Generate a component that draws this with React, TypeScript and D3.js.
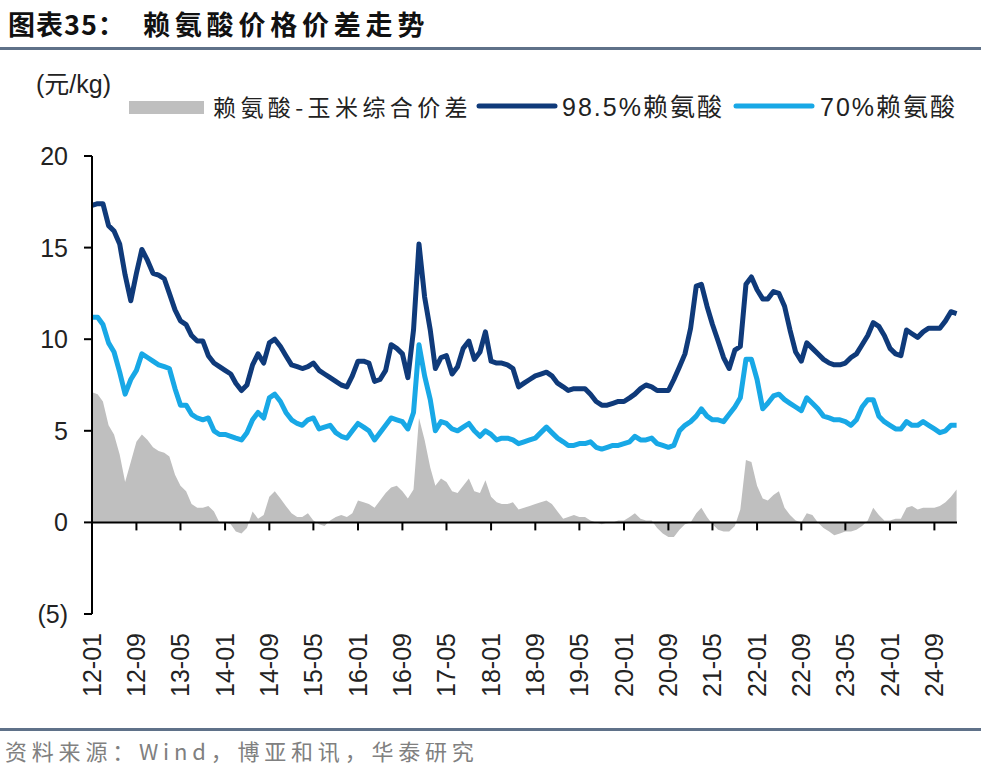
import * as d3 from 'd3';

// monthly, 2012-01 .. 2025-01
const lysine985: number[] = [
    17.3, 17.4, 17.4, 16.2, 15.9, 15.2, 13.5, 12.1, 13.6, 14.9, 14.3, 13.6,
    13.5, 13.3, 12.5, 11.6, 11.0, 10.8, 10.2, 9.9, 9.9, 9.1, 8.7, 8.5,
    8.3, 8.1, 7.6, 7.2, 7.5, 8.6, 9.2, 8.7, 9.8, 10.0, 9.6, 9.1,
    8.6, 8.5, 8.4, 8.5, 8.7, 8.3, 8.1, 7.9, 7.7, 7.5, 7.4, 8.0,
    8.8, 8.8, 8.7, 7.7, 7.8, 8.3, 9.7, 9.5, 9.2, 7.9, 10.5, 15.2,
    12.3, 10.5, 8.4, 9.0, 9.1, 8.1, 8.5, 9.5, 9.9, 8.9, 9.3, 10.4,
    8.8, 8.7, 8.7, 8.6, 8.4, 7.4, 7.6, 7.8, 8.0, 8.1, 8.2, 8.0,
    7.6, 7.4, 7.2, 7.3, 7.3, 7.3, 7.0, 6.6, 6.4, 6.4, 6.5, 6.6,
    6.6, 6.8, 7.0, 7.3, 7.5, 7.4, 7.2, 7.2, 7.2, 7.8, 8.5, 9.2,
    10.6, 12.9, 13.0, 11.8, 10.8, 9.9, 9.0, 8.4, 9.4, 9.6, 13.0, 13.4,
    12.7, 12.2, 12.2, 12.6, 12.5, 11.8, 10.5, 9.3, 8.8, 9.8, 9.5, 9.2,
    8.9, 8.7, 8.6, 8.6, 8.7, 9.0, 9.2, 9.7, 10.2, 10.9, 10.7, 10.2,
    9.5, 9.2, 9.1, 10.5, 10.3, 10.1, 10.4, 10.6, 10.6, 10.6, 11.0, 11.5,
    11.4,
];

const lysine70: number[] = [
    11.2, 11.2, 10.8, 9.8, 9.3, 8.2, 7.0, 7.8, 8.3, 9.2, 9.0, 8.8,
    8.6, 8.5, 8.4, 7.3, 6.4, 6.4, 5.9, 5.7, 5.6, 5.7, 5.0, 4.8,
    4.8, 4.7, 4.6, 4.5, 4.9, 5.6, 6.0, 5.7, 6.8, 7.0, 6.6, 6.0,
    5.6, 5.4, 5.3, 5.6, 5.7, 5.1, 5.2, 5.3, 4.9, 4.7, 4.6, 5.0,
    5.4, 5.2, 5.0, 4.5, 4.9, 5.3, 5.7, 5.6, 5.5, 5.1, 6.0, 9.7,
    8.0, 6.7, 5.0, 5.5, 5.4, 5.1, 5.0, 5.2, 5.4, 5.0, 4.7, 5.0,
    4.8, 4.5, 4.6, 4.6, 4.5, 4.3, 4.4, 4.5, 4.6, 4.9, 5.2, 4.9,
    4.6, 4.4, 4.2, 4.2, 4.3, 4.3, 4.4, 4.1, 4.0, 4.1, 4.2, 4.2,
    4.3, 4.4, 4.7, 4.5, 4.5, 4.6, 4.3, 4.2, 4.1, 4.2, 5.0, 5.3,
    5.5, 5.8, 6.2, 5.8, 5.6, 5.6, 5.5, 5.9, 6.3, 6.8, 8.9, 8.9,
    7.8, 6.2, 6.5, 6.9, 7.0, 6.7, 6.5, 6.3, 6.1, 6.8, 6.5, 6.2,
    5.8, 5.7, 5.6, 5.6, 5.5, 5.3, 5.6, 6.3, 6.7, 6.7, 5.8, 5.5,
    5.3, 5.1, 5.1, 5.5, 5.3, 5.3, 5.5, 5.3, 5.1, 4.9, 5.0, 5.3,
    5.3,
];

const spread: number[] = [
    7.1, 7.0, 6.6, 5.3, 4.8, 3.7, 2.2, 3.3, 4.4, 4.8, 4.5, 4.1,
    3.9, 3.8, 3.6, 2.6, 2.0, 1.7, 1.0, 0.8, 0.8, 0.9, 0.6, 0.0,
    0.0, -0.1, -0.5, -0.6, -0.3, 0.6, 0.2, 0.4, 1.4, 1.7, 1.3, 0.9,
    0.5, 0.3, 0.3, 0.5, 0.1, -0.1, -0.2, 0.1, 0.3, 0.4, 0.3, 0.5,
    1.2, 1.1, 1.0, 0.8, 1.2, 1.6, 1.9, 2.0, 1.7, 1.3, 1.8, 5.7,
    4.5, 3.0, 2.0, 2.4, 2.2, 1.7, 1.6, 2.0, 2.4, 1.7, 1.6, 2.3,
    1.4, 1.1, 1.0, 1.0, 1.1, 0.7, 0.8, 0.9, 1.0, 1.1, 1.2, 1.0,
    0.6, 0.2, 0.3, 0.4, 0.3, 0.3, 0.1, 0.0, -0.1, 0.0, 0.0, 0.1,
    0.1, 0.3, 0.5, 0.2, 0.1, 0.1, -0.3, -0.6, -0.8, -0.8, -0.4, -0.1,
    0.0, 0.5, 0.8, 0.3, -0.1, -0.4, -0.5, -0.5, -0.2, 0.7, 3.4, 3.3,
    2.0, 1.3, 1.2, 1.5, 1.7, 0.8, 0.4, 0.1, 0.0, 0.5, 0.4, 0.0,
    -0.3, -0.5, -0.7, -0.6, -0.5, -0.5, -0.4, -0.2, 0.1, 0.8, 0.4, 0.1,
    0.1, 0.2, 0.2, 0.8, 0.9, 0.7, 0.8, 0.8, 0.8, 0.9, 1.1, 1.4,
    1.8,
];

const months = d3.timeMonth.range(new Date(2012, 0, 1), new Date(2025, 1, 1));

const xTickLabels = [
    '12-01', '12-09', '13-05', '14-01', '14-09', '15-05', '16-01', '16-09', '17-05', '18-01',
    '18-09', '19-05', '20-01', '20-09', '21-05', '22-01', '22-09', '23-05', '24-01', '24-09',
];
const yTicks = [20, 15, 10, 5, 0, -5];

const legendItems = ['赖氨酸-玉米综合价差', '98.5%赖氨酸', '70%赖氨酸'];

const DARK = '#0f3a7a';
const LIGHT = '#18a8e6';
const GRAY = '#bfbfbf';
const RULE = '#5f7189';
const FONT = 'Arial, "Liberation Sans", "Noto Sans CJK SC", sans-serif';
const CJK = '"Noto Sans CJK SC", sans-serif';

export default function App() {
    const width = 981;
    const height = 777;

    const x = d3.scaleTime()
        .domain([months[0], months[months.length - 1]])
        .range([92, 956.6]);
    const y = d3.scaleLinear().domain([-5, 20]).range([614, 156]);

    const rows = months.map((d, i) => ({ d, a: lysine985[i], b: lysine70[i], s: spread[i] }));

    const area = d3.area<typeof rows[number]>()
        .x(r => x(r.d))
        .y0(y(0))
        .y1(r => y(r.s));
    const lineA = d3.line<typeof rows[number]>().x(r => x(r.d)).y(r => y(r.a));
    const lineB = d3.line<typeof rows[number]>().x(r => x(r.d)).y(r => y(r.b));

    const parseTick = (s: string) => {
        const [yy, mm] = s.split('-').map(Number);
        return new Date(2000 + yy, mm - 1, 1);
    };

    return (
        <svg width={width} height={height} style={{ display: 'block', position: 'absolute', left: 0, top: 0, background: '#fff' }}>
            {/* title */}
            <text x={8} y={35} fontFamily={CJK} fontWeight={700} fontSize={27} fill="#111" letterSpacing={1}>图表35：</text>
            <text x={143} y={35} fontFamily={CJK} fontWeight={700} fontSize={27} fill="#111" letterSpacing={4.8}>赖氨酸价格价差走势</text>
            <rect x={0} y={47} width={width} height={3} fill={RULE} />

            {/* unit */}
            <text x={36} y={93} fontFamily={FONT} fontSize={25} fill="#222">(元/kg)</text>

            {/* legend */}
            <rect x={129} y={101} width={75} height={13} fill={GRAY} />
            <text x={213} y={116} fontFamily={CJK} fontSize={23} fill="#222" letterSpacing={4.4}>{legendItems[0]}</text>
            <line x1={479} x2={555} y1={106} y2={106} stroke={DARK} strokeWidth={5} strokeLinecap="round" />
            <text x={562} y={116} fontFamily={FONT} fontSize={25} fill="#222" letterSpacing={2}>{legendItems[1]}</text>
            <line x1={736} x2={812} y1={106} y2={106} stroke={LIGHT} strokeWidth={5} strokeLinecap="round" />
            <text x={820} y={116} fontFamily={FONT} fontSize={25} fill="#222" letterSpacing={2}>{legendItems[2]}</text>

            {/* series */}
            <path d={area(rows) ?? ''} fill={GRAY} />
            <path d={lineA(rows) ?? ''} fill="none" stroke={DARK} strokeWidth={5} strokeLinejoin="round" />
            <path d={lineB(rows) ?? ''} fill="none" stroke={LIGHT} strokeWidth={5} strokeLinejoin="round" />

            {/* y axis */}
            <line x1={92} x2={92} y1={y(20)} y2={y(-5)} stroke="#000" strokeWidth={2} />
            {yTicks.map(t => (
                <g key={t}>
                    <line x1={84} x2={92} y1={y(t)} y2={y(t)} stroke="#000" strokeWidth={2} />
                    <text x={68} y={y(t) + 9} textAnchor="end" fontFamily={FONT} fontSize={25} fill="#222">
                        {t < 0 ? `(${Math.abs(t)})` : t}
                    </text>
                </g>
            ))}

            {/* x axis */}
            <line x1={92} x2={957} y1={y(0)} y2={y(0)} stroke="#000" strokeWidth={2} />
            {xTickLabels.map(l => {
                const px = x(parseTick(l));
                return (
                    <g key={l}>
                        <line x1={px} x2={px} y1={y(0)} y2={y(0) + 8} stroke="#000" strokeWidth={2} />
                        <text
                            transform={`translate(${px + 9},633) rotate(-90)`}
                            textAnchor="end"
                            fontFamily={FONT}
                            fontSize={25}
                            fill="#222"
                        >
                            {l}
                        </text>
                    </g>
                );
            })}

            {/* footer */}
            <rect x={0} y={728} width={width} height={3} fill={RULE} />
            <text x={5} y={760} fontFamily={CJK} fontSize={22} fill="#808080" letterSpacing={4.8}>资料来源：Wind，博亚和讯，华泰研究</text>
        </svg>
    );
}
